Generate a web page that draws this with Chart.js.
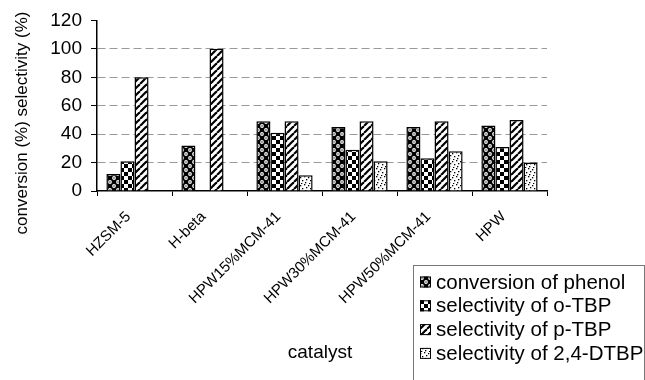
<!DOCTYPE html>
<html>
<head>
<meta charset="utf-8">
<script src="https://cdn.jsdelivr.net/npm/chart.js@4"></script>
<style>
html,body{margin:0;padding:0;background:#fff;}
#wrap{width:645px;height:380px;position:relative;}
</style>
</head>
<body>
<div id="wrap"><canvas id="c" width="645" height="380"></canvas></div>
<script>
const categories = ['HZSM-5', 'H-beta', 'HPW15%MCM-41', 'HPW30%MCM-41', 'HPW50%MCM-41', 'HPW'];
const seriesNames = ['conversion of phenol', 'selectivity of o-TBP', 'selectivity of p-TBP', 'selectivity of 2,4-DTBP'];
const conversionPhenol = [12, 32, 49, 45, 45, 46];
const selectivityOTBP = [21, 0, 41, 29, 23, 31];
const selectivityPTBP = [80, 100, 49, 49, 49, 50];
const selectivityDTBP = [0, 0, 11, 21, 28, 20];
const yTicks = [0, 20, 40, 60, 80, 100, 120];
const yTitle = 'conversion (%) selectivity (%)';
const xTitle = 'catalyst';

const FONT = "'Liberation Sans', Arial, sans-serif";

function tile(w, h, draw) {
  const c = document.createElement('canvas');
  c.width = w; c.height = h;
  const g = c.getContext('2d');
  draw(g, w, h);
  return g.createPattern(c, 'repeat');
}
const patCircles = tile(8, 8, (g) => {
  g.fillStyle = '#000'; g.fillRect(0, 0, 8, 8);
  g.fillStyle = '#fff';
  [[2, 2], [6, 6]].forEach(([x, y]) => { g.beginPath(); g.arc(x, y, 1.9, 0, Math.PI * 2); g.fill(); });
  g.fillStyle = '#000';
  [[2, 2], [6, 6]].forEach(([x, y]) => { g.beginPath(); g.arc(x, y, 0.7, 0, Math.PI * 2); g.fill(); });
});
const patChecker = tile(8, 8, (g) => {
  g.fillStyle = '#fff'; g.fillRect(0, 0, 8, 8);
  g.fillStyle = '#000'; g.fillRect(0, 0, 4, 4); g.fillRect(4, 4, 4, 4);
});
const patStripes = tile(7, 7, (g) => {
  g.fillStyle = '#fff'; g.fillRect(0, 0, 7, 7);
  g.strokeStyle = '#000'; g.lineWidth = 2.2;
  [-7, 0, 7].forEach(o => { g.beginPath(); g.moveTo(o, 7); g.lineTo(o + 7, 0); g.stroke(); });
});
const patDots = tile(8, 8, (g) => {
  g.fillStyle = '#fff'; g.fillRect(0, 0, 8, 8);
  g.fillStyle = '#000';
  [[0, 0], [4, 1], [2, 3], [6, 4], [1, 6], [5, 7]].forEach(([x, y]) => g.fillRect(x, y, 1.3, 1.3));
});
const patterns = [patCircles, patChecker, patStripes, patDots];
const seriesData = [conversionPhenol, selectivityOTBP, selectivityPTBP, selectivityDTBP];

const datasets = seriesNames.map((n, i) => ({
  label: n,
  data: seriesData[i],
  backgroundColor: patterns[i],
  borderColor: '#000',
  borderWidth: 1.5,
  borderSkipped: 'start',
  barPercentage: 1.0,
  categoryPercentage: 0.75
}));

const extras = {
  id: 'extras',
  afterDraw(chart) {
    const ctx = chart.ctx;
    const area = chart.chartArea;
    ctx.save();
    ctx.fillStyle = '#000';
    ctx.font = '17px ' + FONT;
    ctx.textAlign = 'center';
    ctx.textBaseline = 'middle';
    ctx.translate(22, 123);
    ctx.rotate(-Math.PI / 2);
    ctx.fillText(yTitle, 0, 0);
    ctx.restore();
    ctx.save();
    ctx.fillStyle = '#000';
    ctx.font = '19px ' + FONT;
    ctx.textAlign = 'center';
    ctx.textBaseline = 'middle';
    ctx.fillText(xTitle, (area.left + area.right) / 2 - 2, 353);
    // legend
    ctx.fillStyle = '#fff';
    ctx.fillRect(413.5, 265.5, 231, 120);
    ctx.strokeStyle = '#777';
    ctx.lineWidth = 1;
    ctx.strokeRect(413.5, 265.5, 231, 120);
    ctx.font = '20.5px ' + FONT;
    ctx.textAlign = 'left';
    chart.data.datasets.forEach((ds, i) => {
      const y = 282 + i * 23.8;
      ctx.fillStyle = ds.backgroundColor;
      ctx.fillRect(420, y - 5.5, 11, 11);
      ctx.strokeStyle = '#000';
      ctx.lineWidth = 1;
      ctx.strokeRect(420.5, y - 5, 10, 10);
      ctx.fillStyle = '#000';
      ctx.fillText(ds.label, 436, y + 1);
    });
    ctx.restore();
  }
};

new Chart(document.getElementById('c'), {
  type: 'bar',
  data: { labels: categories, datasets },
  options: {
    responsive: false,
    animation: false,
    devicePixelRatio: 1,
    layout: { padding: { left: 0, top: 20, right: 98, bottom: 0 } },
    plugins: { legend: { display: false }, tooltip: { enabled: false } },
    scales: {
      x: {
        afterFit: (s) => { s.height = 189; },
        grid: { drawOnChartArea: false, tickLength: 5, tickColor: '#000', offset: true },
        border: { color: '#000', width: 1.5 },
        ticks: { color: '#000', font: { family: FONT, size: 15 }, minRotation: 45, maxRotation: 45, autoSkip: false, padding: 12, labelOffset: -6 }
      },
      y: {
        min: 0, max: 120,
        afterFit: (s) => { s.width = 97; },
        afterBuildTicks: (s) => { s.ticks = yTicks.map(v => ({ value: v })); },
        grid: {
          color: (c) => (c.tick && (c.tick.value === 0 || c.tick.value === 120)) ? 'rgba(0,0,0,0)' : '#999',
          tickColor: '#000',
          tickLength: 6,
          tickBorderDash: [],
          lineWidth: 1
        },
        border: { color: '#000', width: 1.5, dash: [8, 4] },
        ticks: { color: '#000', font: { family: FONT, size: 19 }, padding: 9 }
      }
    }
  },
  plugins: [extras]
});
</script>
</body>
</html>
